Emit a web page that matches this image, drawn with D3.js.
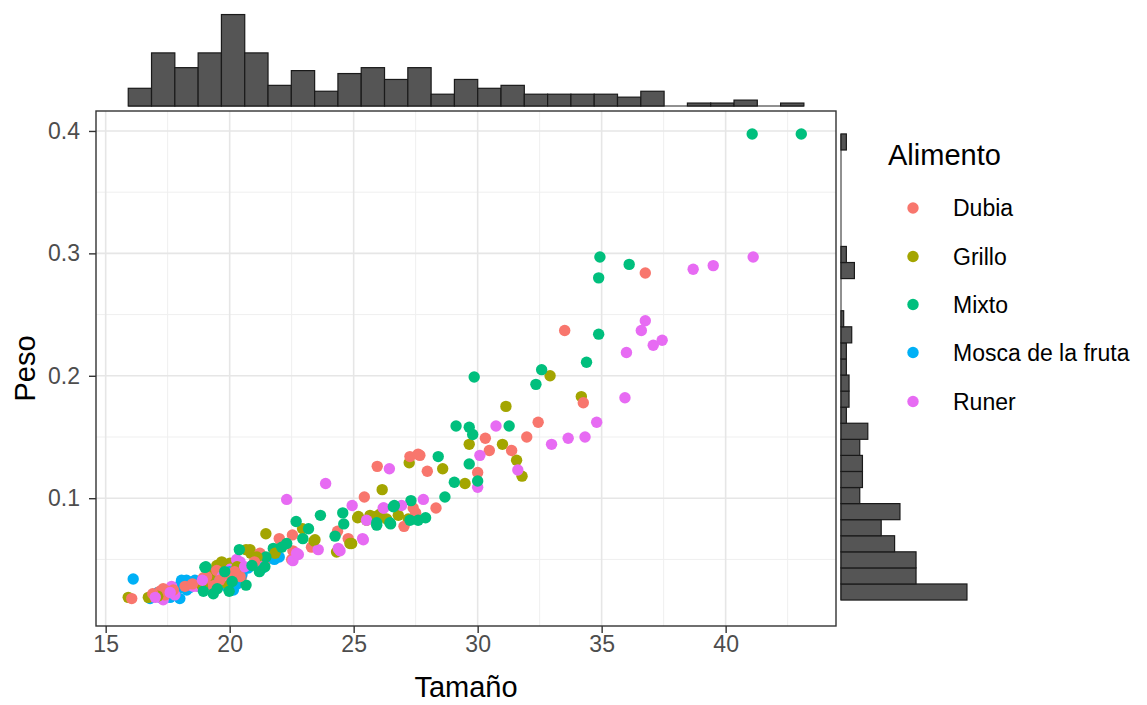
<!DOCTYPE html>
<html lang="es">
<head>
<meta charset="UTF-8">
<title>Peso vs Tamaño</title>
<script src="https://cdn.jsdelivr.net/npm/d3@7"></script>
<style>
  body { margin: 0; background: #fff; }
  text { font-family: "Liberation Sans", Arial, sans-serif; }
</style>
</head>
<body>
<script>
// categories and colours (ggplot hue palette)
const categories = ["Dubia", "Grillo", "Mixto", "Mosca de la fruta", "Runer"];
const colors = ["#F8766D", "#A3A500", "#00BF7D", "#00B0F6", "#E76BF3"];

// [Tamaño, Peso]
const dubia = [[36.76,0.284],[33.51,0.237],[34.26,0.178],[32.44,0.162],[30.31,0.149],[31.98,0.150],
  [30.47,0.139],[31.37,0.139],[27.67,0.135],[27.97,0.122],[30.0,0.121],[27.27,0.134],[27.6,0.136],
  [25.95,0.126],[25.43,0.101],[28.32,0.092],[27.4,0.092],[27.03,0.077],[27.5,0.088],[22.53,0.070],
  [22.0,0.067],[23.3,0.060],[24.35,0.073],[24.78,0.067],[22.55,0.057],[22.5,0.050],[22.1,0.063],
  [21.22,0.055],[21.49,0.050],[20.48,0.036],[19.41,0.041],[18.94,0.035],[19.27,0.029],[16.05,0.018],
  [17.19,0.024],[17.32,0.026],[17.73,0.025],[17.39,0.021],[18.2,0.028],[19.07,0.036],[19.48,0.041],
  [20.42,0.036],[16.9,0.022],[17.5,0.024],[18.5,0.030],[19.9,0.038],[20.2,0.040],[21.0,0.048],[19.6,0.033]];
const grillo = [[32.92,0.200],[34.18,0.183],[31.14,0.175],[29.66,0.144],[31.0,0.144],[31.57,0.131],
  [28.59,0.124],[31.79,0.118],[29.49,0.112],[27.24,0.129],[26.15,0.107],[25.16,0.084],[25.66,0.086],
  [25.9,0.085],[26.06,0.087],[26.8,0.086],[27.2,0.083],[26.33,0.083],[25.52,0.082],[22.94,0.075],
  [21.46,0.071],[23.4,0.065],[24.31,0.056],[24.92,0.063],[20.85,0.055],[20.82,0.058],[20.66,0.058],
  [20.01,0.047],[19.61,0.045],[19.14,0.037],[15.91,0.019],[16.72,0.019],[19.2,0.037],[19.48,0.045],
  [19.68,0.048],[21.83,0.055],[23.44,0.066],[25.19,0.085],[24.85,0.063],[17.1,0.020],[18.9,0.028],
  [20.3,0.044],[21.1,0.052],[19.9,0.030]];
const mixto = [[41.07,0.3975],[43.05,0.3975],[34.93,0.297],[36.11,0.291],[34.88,0.280],[34.88,0.234],
  [34.39,0.211],[32.58,0.205],[29.86,0.199],[32.35,0.193],[29.13,0.159],[29.66,0.158],[29.8,0.152],
  [31.27,0.159],[28.41,0.134],[29.66,0.128],[29.06,0.113],[30.0,0.114],[27.31,0.098],[28.68,0.101],
  [27.9,0.084],[24.56,0.088],[23.66,0.086],[26.64,0.094],[27.27,0.082],[27.6,0.082],[26.49,0.079],
  [25.93,0.078],[22.68,0.081],[23.18,0.075],[22.95,0.067],[22.3,0.063],[24.25,0.069],[24.6,0.079],
  [21.76,0.059],[22.1,0.060],[20.39,0.058],[21.46,0.052],[21.42,0.044],[19.04,0.044],[20.66,0.029],
  [18.94,0.024],[19.34,0.022],[19.98,0.024],[19.0,0.0435],[25.93,0.080],[26.6,0.093],[26.46,0.080],
  [20.1,0.032],[20.9,0.045],[19.5,0.026],[21.2,0.040],[19.8,0.040]];
const mosca = [[16.11,0.034],[16.79,0.018],[17.46,0.020],[17.66,0.022],[17.93,0.026],[18.06,0.033],
  [17.99,0.018],[18.27,0.025],[18.6,0.033],[19.74,0.033],[19.88,0.028],[19.61,0.031],[20.01,0.025],
  [18.53,0.031],[18.26,0.033],[20.15,0.025],[20.01,0.036],[22.0,0.052],[21.33,0.043],[20.75,0.043],
  [17.0,0.021],[17.2,0.019],[18.8,0.030],[19.2,0.032],[20.3,0.030],[17.1,0.023],[17.6,0.019],
  [18.0,0.029],[18.4,0.027],[19.3,0.036],[19.8,0.030],[20.2,0.034],[20.5,0.038],[20.0,0.040],[21.8,0.050]];
const runer = [[38.69,0.287],[39.5,0.290],[41.11,0.297],[36.76,0.245],[36.6,0.237],[37.44,0.229],
  [37.08,0.225],[36.0,0.219],[35.94,0.182],[34.8,0.162],[30.74,0.159],[32.98,0.144],[33.65,0.149],
  [34.33,0.150],[30.09,0.135],[31.62,0.123],[30.0,0.109],[26.44,0.124],[23.87,0.112],[22.3,0.099],
  [27.81,0.099],[24.94,0.094],[26.22,0.092],[26.93,0.094],[23.57,0.058],[24.45,0.057],[22.77,0.054],
  [22.55,0.049],[21.11,0.050],[20.42,0.048],[20.01,0.042],[18.53,0.028],[17.32,0.017],[17.66,0.028],
  [17.79,0.021],[18.67,0.028],[20.28,0.050],[22.7,0.055],[25.39,0.066],[24.38,0.059],[25.52,0.082],
  [26.19,0.092],[25.36,0.067],[17.0,0.019],[17.6,0.023],[19.7,0.036],[20.6,0.044],[18.9,0.033]];

const xTicks = [15, 20, 25, 30, 35, 40];
const xMinor = [17.5, 22.5, 27.5, 32.5, 37.5, 42.5];
const yTicks = [0.1, 0.2, 0.3, 0.4];
const yMinor = [0.05, 0.15, 0.25, 0.35];

// marginal histograms: counts per bin
const topBinStart = 15.91, topBinWidth = 0.9395;
const topCounts = [6,18,13,18,31,18,7,12,5,11,13,9,13,4,9,6,7,4,4,4,4,3,5,0,1,1,2,0,1];
const rightBinStart = 0.0168, rightBinWidth = 0.01313;
const rightCounts = [47,28,28,20,15,22,7,8,8,7,10,2,3,3,2,2,4,1,0,0,5,2,0,0,0,0,0,0,2];

const W = 1147, H = 705;
const panel = {left: 96, right: 836, top: 111, bottom: 626};

const svg = d3.select("body").append("svg").attr("width", W).attr("height", H);

const x = d3.scaleLinear().domain([14.61, 44.45]).range([panel.left, panel.right]);
const y = d3.scaleLinear().domain([-0.0044, 0.4163]).range([panel.bottom, panel.top]);

// grid
const grid = svg.append("g");
grid.selectAll(".xm").data(xMinor).enter().append("line")
  .attr("x1", d => x(d)).attr("x2", d => x(d)).attr("y1", panel.top).attr("y2", panel.bottom)
  .attr("stroke", "#efefef").attr("stroke-width", 1);
grid.selectAll(".ym").data(yMinor).enter().append("line")
  .attr("y1", d => y(d)).attr("y2", d => y(d)).attr("x1", panel.left).attr("x2", panel.right)
  .attr("stroke", "#efefef").attr("stroke-width", 1);
grid.selectAll(".xM").data(xTicks).enter().append("line")
  .attr("x1", d => x(d)).attr("x2", d => x(d)).attr("y1", panel.top).attr("y2", panel.bottom)
  .attr("stroke", "#e6e6e6").attr("stroke-width", 1.6);
grid.selectAll(".yM").data(yTicks).enter().append("line")
  .attr("y1", d => y(d)).attr("y2", d => y(d)).attr("x1", panel.left).attr("x2", panel.right)
  .attr("stroke", "#e6e6e6").attr("stroke-width", 1.6);

// points, interleaved like raw data rows
const groups = [runer, dubia, grillo, mixto, mosca];
const groupIdx = [4, 0, 1, 2, 3];
const points = [];
const maxLen = d3.max(groups, g => g.length);
for (let i = 0; i < maxLen; i++) {
  groups.forEach((g, k) => { if (i < g.length) points.push({t: g[i][0], p: g[i][1], k: groupIdx[k]}); });
}
svg.append("g").selectAll("circle").data(points).enter().append("circle")
  .attr("cx", d => x(d.t)).attr("cy", d => y(d.p)).attr("r", 5.7)
  .attr("fill", d => colors[d.k]);

// panel border
svg.append("rect").attr("x", panel.left).attr("y", panel.top)
  .attr("width", panel.right - panel.left).attr("height", panel.bottom - panel.top)
  .attr("fill", "none").attr("stroke", "#333").attr("stroke-width", 1.4);

// axes
const xAxis = svg.append("g").attr("transform", `translate(0,${panel.bottom})`)
  .call(d3.axisBottom(x).tickValues(xTicks).tickSize(7).tickPadding(3).tickFormat(d3.format("d")));
const yAxis = svg.append("g").attr("transform", `translate(${panel.left},0)`)
  .call(d3.axisLeft(y).tickValues(yTicks).tickSize(7).tickPadding(9).tickFormat(d3.format(".1f")));
[xAxis, yAxis].forEach(a => {
  a.select(".domain").remove();
  a.selectAll(".tick line").attr("stroke", "#333").attr("stroke-width", 1.4);
  a.selectAll(".tick text").attr("fill", "#4d4d4d").style("font-size", "23px")
    .style("font-family", '"Liberation Sans", Arial, sans-serif');
});

svg.append("text").attr("x", (panel.left + panel.right) / 2).attr("y", 697)
  .attr("text-anchor", "middle").style("font-size", "29px").text("Tamaño");
svg.append("text").attr("transform", `translate(35,${(panel.top + panel.bottom) / 2}) rotate(-90)`)
  .attr("text-anchor", "middle").style("font-size", "29px").text("Peso");

// top histogram
const topBase = 106;
const hTop = d3.scaleLinear().domain([0, 31]).range([0, 31 * 2.95]);
const topBins = topCounts.map((c, i) => ({x0: topBinStart + i * topBinWidth, x1: topBinStart + (i + 1) * topBinWidth, c: c}));
svg.append("line").attr("x1", x(topBins[0].x0)).attr("x2", x(topBins[topBins.length - 1].x1))
  .attr("y1", topBase).attr("y2", topBase).attr("stroke", "#222").attr("stroke-width", 1);
svg.append("g").selectAll("rect").data(topBins.filter(b => b.c > 0)).enter().append("rect")
  .attr("x", d => x(d.x0)).attr("width", d => x(d.x1) - x(d.x0))
  .attr("y", d => topBase - hTop(d.c)).attr("height", d => hTop(d.c))
  .attr("fill", "#555").attr("stroke", "#1a1a1a").attr("stroke-width", 1.2);

// right histogram
const rightBase = 841;
const wRight = d3.scaleLinear().domain([0, 47]).range([0, 47 * 2.68]);
const rightBins = rightCounts.map((c, i) => ({y0: rightBinStart + i * rightBinWidth, y1: rightBinStart + (i + 1) * rightBinWidth, c: c}));
svg.append("line").attr("x1", rightBase).attr("x2", rightBase)
  .attr("y1", y(rightBins[0].y0)).attr("y2", y(rightBins[rightBins.length - 1].y1))
  .attr("stroke", "#222").attr("stroke-width", 1);
svg.append("g").selectAll("rect").data(rightBins.filter(b => b.c > 0)).enter().append("rect")
  .attr("x", rightBase).attr("width", d => wRight(d.c))
  .attr("y", d => y(d.y1)).attr("height", d => y(d.y0) - y(d.y1))
  .attr("fill", "#555").attr("stroke", "#1a1a1a").attr("stroke-width", 1.2);

// legend
const legend = svg.append("g");
legend.append("text").attr("x", 888).attr("y", 165).style("font-size", "29px").text("Alimento");
const legY = [208, 256.5, 304.5, 352.5, 401.5];
categories.forEach((c, i) => {
  legend.append("circle").attr("cx", 913).attr("cy", legY[i]).attr("r", 5.7).attr("fill", colors[i]);
  legend.append("text").attr("x", 953).attr("y", legY[i] + 8).style("font-size", "23px").text(c);
});
</script>
</body>
</html>
